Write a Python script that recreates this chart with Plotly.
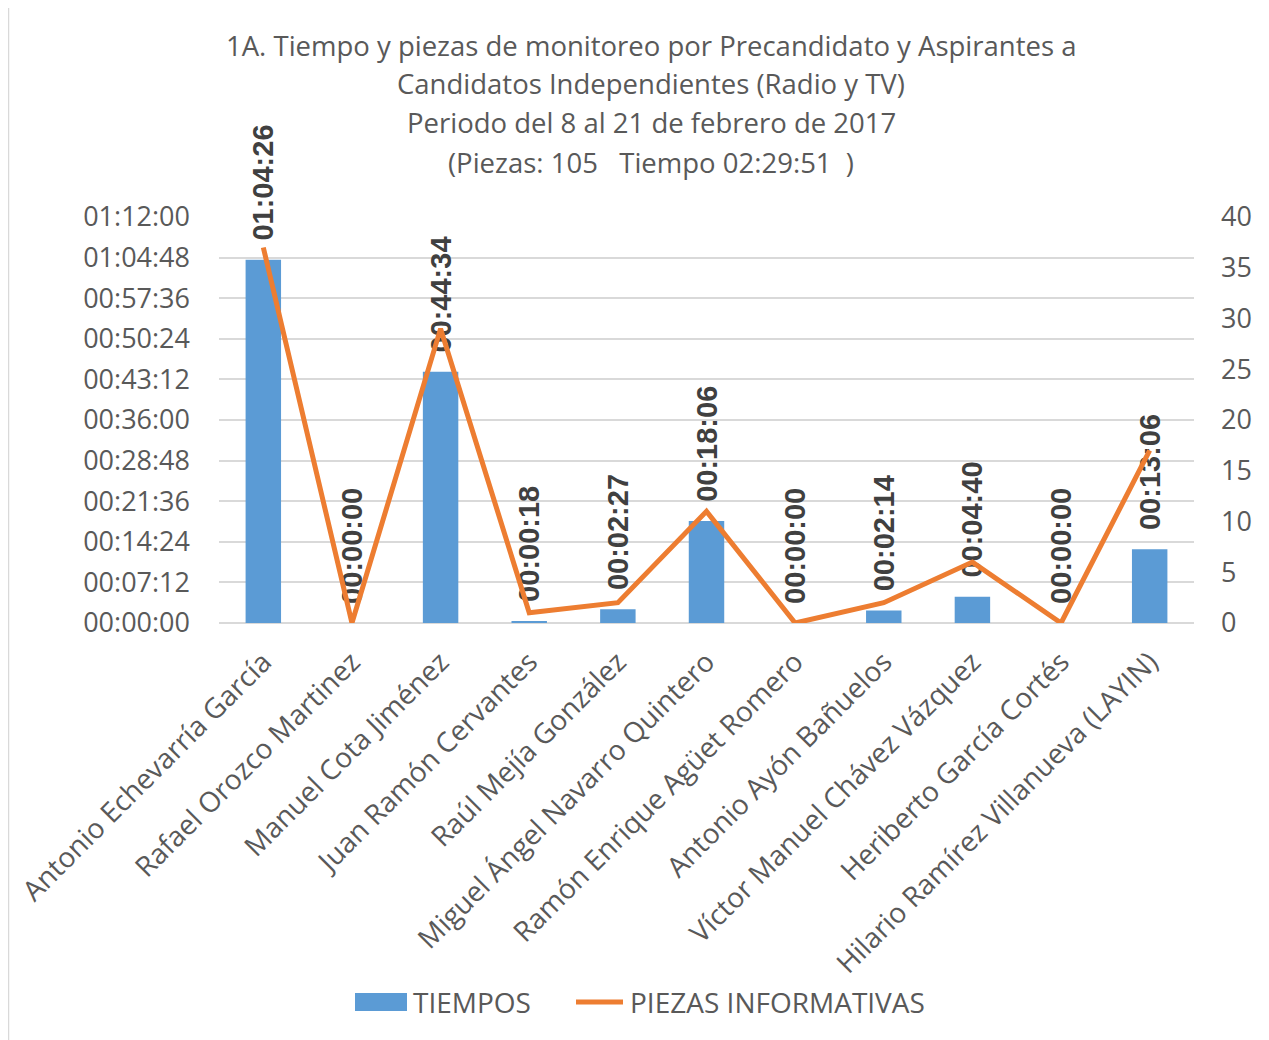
import plotly.graph_objects as go

categories = [
    "Antonio Echevarría García",
    "Rafael Orozco Martinez",
    "Manuel Cota Jiménez",
    "Juan Ramón Cervantes",
    "Raúl Mejía González",
    "Miguel Ángel Navarro Quintero",
    "Ramón Enrique Agüet Romero",
    "Antonio Ayón Bañuelos",
    "Víctor Manuel Chávez Vázquez",
    "Heriberto García Cortés",
    "Hilario Ramírez Villanueva (LAYIN)",
]
tiempos = ["01:04:26", "00:00:00", "00:44:34", "00:00:18", "00:02:27", "00:18:06",
           "00:00:00", "00:02:14", "00:04:40", "00:00:00", "00:13:06"]
piezas = [37, 0, 29, 1, 2, 11, 0, 2, 6, 0, 17]
left_ticks = ["00:00:00", "00:07:12", "00:14:24", "00:21:36", "00:28:48", "00:36:00",
              "00:43:12", "00:50:24", "00:57:36", "01:04:48", "01:12:00"]
right_ticks = [0, 5, 10, 15, 20, 25, 30, 35, 40]
series_names = ["TIEMPOS", "PIEZAS INFORMATIVAS"]

title_lines = [
    "1A. Tiempo y piezas de monitoreo por Precandidato y Aspirantes a",
    "Candidatos Independientes (Radio y TV)",
    "Periodo del 8 al 21 de febrero de 2017",
    "(Piezas: 105   Tiempo 02:29:51  )",
]


def to_sec(s):
    h, m, sec = (int(p) for p in s.split(":"))
    return h * 3600 + m * 60 + sec


secs = [to_sec(t) for t in tiempos]
left_vals = [to_sec(t) for t in left_ticks]

TXT = "#595959"
BLUE = "#5B9BD5"
ORANGE = "#ED7D31"

fig = go.Figure()
fig.add_trace(go.Bar(
    x=categories, y=secs, name=series_names[0],
    marker=dict(color=BLUE, line=dict(width=0)),
    text=["\u00a0\u00a0" + t for t in tiempos],
    textposition="outside", textangle=-90, constraintext="none",
    textfont=dict(family="Liberation Sans", size=29, color="#404040", weight="bold"),
    cliponaxis=False, yaxis="y", showlegend=False,
))
fig.add_trace(go.Scatter(
    x=categories, y=piezas, name=series_names[1], mode="lines",
    line=dict(color=ORANGE, width=5), yaxis="y2", cliponaxis=False, showlegend=False,
))

# page offset (body margin) in the screenshot
OFF = 8
SW, SH = 1269, 1040
W, H = SW - OFF, SH - OFF
L, R, T, B = 219, 1194, 217, 623  # plot area in screenshot pixels
pw, ph = R - L, B - T


def px_x(x):
    return (x - L) / pw


def px_y(y):
    return (B - y) / ph


fig.update_layout(
    width=W, height=H,
    margin=dict(l=L - OFF, r=SW - R, t=T - OFF, b=SH - B, autoexpand=False),
    paper_bgcolor="white", plot_bgcolor="white",
    font=dict(family="Open Sans", color=TXT, size=27),
    bargap=0.6,
    showlegend=False,
    xaxis=dict(tickangle=-45, tickfont=dict(size=28, color=TXT), showgrid=False,
               showline=False, ticks="", ticklabelstandoff=16, automargin=False),
    yaxis=dict(range=[0, left_vals[-1]], tickvals=left_vals, ticktext=left_ticks,
               tickfont=dict(size=27, color=TXT), gridcolor="#D9D9D9", gridwidth=1.5,
               zeroline=True, zerolinecolor="#D9D9D9", zerolinewidth=1.5,
               showline=False, ticks="", ticklabelstandoff=28, automargin=False),
    yaxis2=dict(range=[0, right_ticks[-1]], tickvals=right_ticks, overlaying="y",
                side="right", showgrid=False, zeroline=False, showline=False,
                tickfont=dict(size=27, color=TXT), ticks="", ticklabelstandoff=26,
                automargin=False),
)

for i, line in enumerate(title_lines):
    fig.add_annotation(text=line, xref="paper", yref="paper", x=px_x(651),
                       y=px_y(45 + 39 * i), xanchor="center", yanchor="middle",
                       showarrow=False, font=dict(size=27.5, color=TXT))

# custom legend
LY = 1002
fig.add_shape(type="rect", xref="paper", yref="paper",
              x0=px_x(355), x1=px_x(407), y0=px_y(LY + 9), y1=px_y(LY - 9),
              fillcolor=BLUE, line=dict(width=0))
fig.add_annotation(text=series_names[0], xref="paper", yref="paper", x=px_x(411),
                   y=px_y(LY), xanchor="left", yanchor="middle", showarrow=False,
                   font=dict(size=28, color=TXT))
fig.add_shape(type="line", xref="paper", yref="paper",
              x0=px_x(576), x1=px_x(623), y0=px_y(LY), y1=px_y(LY),
              line=dict(color=ORANGE, width=5))
fig.add_annotation(text=series_names[1], xref="paper", yref="paper", x=px_x(628),
                   y=px_y(LY), xanchor="left", yanchor="middle", showarrow=False,
                   font=dict(size=28, color=TXT))

# chart border (left, top, right)
bx0, bx1, by0, by1 = px_x(8.5), px_x(1267), px_y(SH + 5), px_y(5.5)
fig.add_shape(type="path", xref="paper", yref="paper",
              path=f"M {bx0} {by0} L {bx0} {by1} L {bx1} {by1} L {bx1} {by0}",
              line=dict(color="#D9D9D9", width=1.5), layer="below")

fig.write_html("out.html")
